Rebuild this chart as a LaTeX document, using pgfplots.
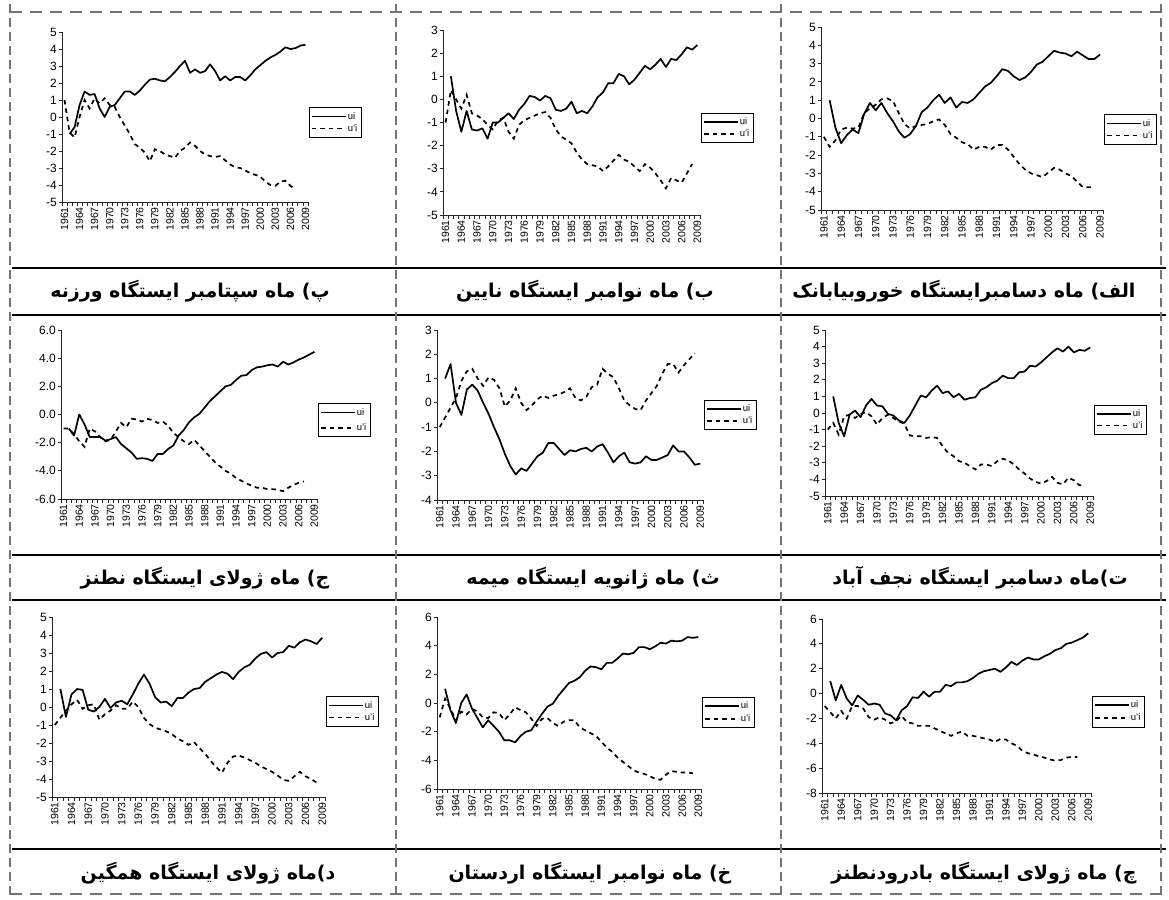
\documentclass[border=0pt]{standalone}
\usepackage{fontspec}
\setmainfont{Liberation Sans}
\newfontfamily\farsi[Script=Arabic]{DejaVu Sans}
\usepackage{pgfplots}
\usepackage{pgfplotstable}
\pgfplotsset{compat=1.18}
\TeXXeTstate=1

% year, ui, u'i
\pgfplotstableread{
y u p
1961 nan 1.0
1962 -1.0 -0.9
1963 -0.6 -1.2
1964 0.7 0.0
1965 1.5 1.0
1966 1.3 0.5
1967 1.35 1.1
1968 0.5 0.8
1969 0.0 1.1
1970 0.6 0.7
1971 0.7 0.6
1972 1.1 0.0
1973 1.5 -0.5
1974 1.5 -1.0
1975 1.3 -1.6
1976 1.55 -1.8
1977 1.9 -2.1
1978 2.2 -2.6
1979 2.25 -1.9
1980 2.15 -2.0
1981 2.1 -2.2
1982 2.35 -2.3
1983 2.65 -2.4
1984 3.0 -2.0
1985 3.3 -1.8
1986 2.6 -1.5
1987 2.8 -1.7
1988 2.6 -2.0
1989 2.7 -2.2
1990 3.1 -2.3
1991 2.7 -2.35
1992 2.15 -2.3
1993 2.4 -2.55
1994 2.15 -2.8
1995 2.35 -2.95
1996 2.35 -3.0
1997 2.15 -3.15
1998 2.45 -3.3
1999 2.8 -3.4
2000 3.05 -3.5
2001 3.3 -3.8
2002 3.5 -4.0
2003 3.65 -4.05
2004 3.85 -3.8
2005 4.1 -3.75
2006 4.0 -4.05
2007 4.05 -4.25
2008 4.2 nan
2009 4.25 nan
}\dA
\pgfplotstableread{
y u p
1961 nan -1.0
1962 1.0 0.4
1963 -0.5 0.0
1964 -1.4 -0.4
1965 -0.5 0.2
1966 -1.3 -0.6
1967 -1.35 -0.7
1968 -1.25 -0.85
1969 -1.7 -1.1
1970 -1.0 -1.3
1971 -1.0 -0.9
1972 -0.8 -0.8
1973 -0.6 -1.4
1974 -0.85 -1.7
1975 -0.45 -1.1
1976 -0.2 -0.9
1977 0.15 -0.8
1978 0.1 -0.7
1979 -0.05 -0.6
1980 0.15 -0.55
1981 0.05 -0.8
1982 -0.45 -1.3
1983 -0.5 -1.6
1984 -0.4 -1.75
1985 -0.1 -1.9
1986 -0.6 -2.3
1987 -0.5 -2.6
1988 -0.6 -2.8
1989 -0.3 -2.85
1990 0.1 -2.9
1991 0.3 -3.1
1992 0.7 -2.9
1993 0.7 -2.65
1994 1.1 -2.4
1995 1.0 -2.6
1996 0.65 -2.7
1997 0.85 -2.9
1998 1.15 -3.1
1999 1.45 -2.8
2000 1.3 -2.95
2001 1.5 -3.2
2002 1.75 -3.5
2003 1.4 -3.85
2004 1.75 -3.4
2005 1.7 -3.5
2006 1.95 -3.6
2007 2.25 -3.2
2008 2.15 -2.8
2009 2.35 nan
}\dB
\pgfplotstableread{
y u p
1961 nan -1.0
1962 1.0 -1.55
1963 -0.5 -1.2
1964 -1.35 -0.6
1965 -0.9 -0.5
1966 -0.6 -0.55
1967 -0.8 -0.5
1968 0.25 0.3
1969 0.85 0.55
1970 0.45 0.75
1971 0.85 1.05
1972 0.3 1.1
1973 -0.15 0.95
1974 -0.7 0.3
1975 -1.05 -0.3
1976 -0.85 -0.55
1977 -0.4 -0.4
1978 0.35 -0.35
1979 0.6 -0.3
1980 1.0 -0.15
1981 1.3 -0.05
1982 0.85 -0.35
1983 1.15 -0.85
1984 0.6 -1.05
1985 0.9 -1.3
1986 0.85 -1.4
1987 1.05 -1.7
1988 1.4 -1.55
1989 1.75 -1.55
1990 1.95 -1.7
1991 2.3 -1.45
1992 2.7 -1.45
1993 2.6 -1.7
1994 2.3 -2.1
1995 2.1 -2.5
1996 2.25 -2.8
1997 2.55 -3.0
1998 2.95 -3.1
1999 3.1 -3.2
2000 3.4 -2.95
2001 3.7 -2.7
2002 3.6 -2.8
2003 3.55 -3.0
2004 3.4 -3.15
2005 3.65 -3.45
2006 3.45 -3.75
2007 3.25 -3.75
2008 3.25 -3.75
2009 3.5 nan
}\dC
\pgfplotstableread{
y u p
1961 nan -1.0
1962 -1.0 -1.0
1963 -1.5 -1.4
1964 0.0 -1.9
1965 -0.7 -2.3
1966 -1.6 -1.0
1967 -1.6 -1.2
1968 -1.6 -1.6
1969 -1.85 -1.9
1970 -1.75 -1.8
1971 -1.6 -1.2
1972 -2.1 -0.6
1973 -2.4 -0.9
1974 -2.7 -0.3
1975 -3.15 -0.35
1976 -3.1 -0.5
1977 -3.15 -0.3
1978 -3.3 -0.4
1979 -2.8 -0.6
1980 -2.8 -0.5
1981 -2.45 -0.8
1982 -2.2 -1.3
1983 -1.5 -1.6
1984 -1.1 -1.9
1985 -0.55 -2.1
1986 -0.2 -1.8
1987 0.05 -2.2
1988 0.5 -2.6
1989 0.95 -3.0
1990 1.3 -3.4
1991 1.65 -3.7
1992 2.0 -4.0
1993 2.1 -4.2
1994 2.45 -4.5
1995 2.75 -4.7
1996 2.8 -4.9
1997 3.15 -5.05
1998 3.35 -5.2
1999 3.4 -5.2
2000 3.5 -5.3
2001 3.55 -5.3
2002 3.4 -5.35
2003 3.75 -5.45
2004 3.55 -5.2
2005 3.7 -5.0
2006 3.9 -4.85
2007 4.05 -4.75
2008 4.25 nan
2009 4.45 nan
}\dD
\pgfplotstableread{
y u p
1961 nan -1.0
1962 1.0 -0.6
1963 1.6 -0.2
1964 0.0 0.2
1965 -0.5 0.9
1966 0.55 1.3
1967 0.75 1.4
1968 0.5 1.0
1969 0.0 0.7
1970 -0.45 1.05
1971 -1.0 0.95
1972 -1.5 0.6
1973 -2.1 -0.15
1974 -2.6 0.1
1975 -2.95 0.6
1976 -2.7 0.0
1977 -2.8 -0.3
1978 -2.5 -0.1
1979 -2.2 0.15
1980 -2.05 0.3
1981 -1.65 0.2
1982 -1.65 0.3
1983 -1.9 0.35
1984 -2.15 0.45
1985 -1.95 0.6
1986 -2.0 0.2
1987 -1.9 0.1
1988 -1.85 0.25
1989 -2.0 0.65
1990 -1.8 0.75
1991 -1.7 1.4
1992 -2.05 1.2
1993 -2.45 1.05
1994 -2.2 0.6
1995 -2.05 0.1
1996 -2.45 -0.1
1997 -2.5 -0.25
1998 -2.45 -0.3
1999 -2.2 0.1
2000 -2.35 0.4
2001 -2.35 0.7
2002 -2.25 1.2
2003 -2.15 1.6
2004 -1.75 1.6
2005 -2.0 1.25
2006 -2.0 1.55
2007 -2.25 1.8
2008 -2.55 2.05
2009 -2.5 nan
}\dE
\pgfplotstableread{
y u p
1961 nan -1.0
1962 1.0 -0.6
1963 -0.6 -1.3
1964 -1.4 -0.2
1965 -0.1 -0.1
1966 0.15 -0.3
1967 -0.25 -0.05
1968 0.45 0.05
1969 0.85 -0.2
1970 0.45 -0.7
1971 0.4 -0.3
1972 -0.05 -0.1
1973 -0.15 -0.3
1974 -0.45 -0.5
1975 -0.6 -0.65
1976 -0.15 -1.35
1977 0.45 -1.4
1978 1.05 -1.4
1979 0.95 -1.5
1980 1.35 -1.45
1981 1.65 -1.5
1982 1.2 -2.0
1983 1.3 -2.4
1984 0.95 -2.6
1985 1.15 -2.9
1986 0.8 -3.0
1987 0.9 -3.2
1988 0.95 -3.4
1989 1.4 -3.1
1990 1.55 -3.1
1991 1.8 -3.2
1992 1.95 -2.9
1993 2.25 -2.75
1994 2.1 -2.85
1995 2.1 -3.1
1996 2.45 -3.4
1997 2.5 -3.65
1998 2.85 -3.95
1999 2.8 -4.15
2000 3.05 -4.25
2001 3.35 -4.1
2002 3.65 -3.85
2003 3.9 -4.2
2004 3.7 -4.3
2005 4.0 -3.9
2006 3.65 -4.05
2007 3.8 -4.35
2008 3.75 -4.35
2009 3.95 nan
}\dF
\pgfplotstableread{
y u p
1961 nan -1.0
1962 1.0 -0.6
1963 -0.55 -0.2
1964 0.7 0.15
1965 1.0 0.4
1966 0.95 -0.1
1967 -0.15 0.1
1968 -0.25 0.15
1969 0.0 -0.7
1970 0.45 -0.4
1971 -0.05 -0.2
1972 0.25 0.1
1973 0.35 -0.1
1974 0.15 -0.1
1975 0.7 0.3
1976 1.3 0.0
1977 1.8 -0.6
1978 1.3 -0.95
1979 0.55 -1.15
1980 0.25 -1.25
1981 0.3 -1.35
1982 0.05 -1.5
1983 0.5 -1.75
1984 0.5 -1.9
1985 0.8 -2.1
1986 1.0 -1.95
1987 1.05 -2.3
1988 1.4 -2.6
1989 1.6 -3.0
1990 1.8 -3.35
1991 1.95 -3.65
1992 1.85 -3.1
1993 1.55 -2.75
1994 1.95 -2.7
1995 2.2 -2.8
1996 2.35 -2.95
1997 2.7 -3.1
1998 2.95 -3.3
1999 3.05 -3.45
2000 2.75 -3.6
2001 3.0 -3.8
2002 3.05 -4.05
2003 3.4 -4.1
2004 3.3 -3.85
2005 3.6 -3.6
2006 3.75 -3.85
2007 3.65 -4.0
2008 3.5 -4.2
2009 3.85 nan
}\dG
\pgfplotstableread{
y u p
1961 nan -1.0
1962 1.0 0.3
1963 -0.5 -0.4
1964 -1.4 -1.2
1965 0.0 -0.6
1966 0.6 -0.8
1967 -0.4 -0.4
1968 -1.05 -0.6
1969 -1.7 -1.0
1970 -1.2 -1.05
1971 -1.6 -0.65
1972 -2.0 -0.7
1973 -2.6 -1.2
1974 -2.6 -0.8
1975 -2.75 -0.3
1976 -2.3 -0.5
1977 -2.0 -0.65
1978 -1.9 -1.1
1979 -1.3 -1.6
1980 -0.75 -1.1
1981 -0.25 -1.05
1982 -0.05 -1.4
1983 0.5 -1.6
1984 0.95 -1.3
1985 1.4 -1.2
1986 1.55 -1.2
1987 1.8 -1.7
1988 2.25 -1.9
1989 2.55 -2.1
1990 2.5 -2.3
1991 2.35 -2.7
1992 2.8 -3.1
1993 2.8 -3.4
1994 3.1 -3.8
1995 3.45 -4.1
1996 3.4 -4.4
1997 3.5 -4.7
1998 3.9 -4.85
1999 3.9 -4.95
2000 3.75 -5.1
2001 3.95 -5.3
2002 4.2 -5.35
2003 4.15 -5.0
2004 4.35 -4.75
2005 4.3 -4.8
2006 4.35 -4.85
2007 4.6 -4.85
2008 4.55 -4.9
2009 4.6 nan
}\dH
\pgfplotstableread{
y u p
1961 nan -1.0
1962 1.0 -1.5
1963 -0.55 -2.0
1964 0.7 -1.4
1965 -0.4 -2.0
1966 -0.95 -1.0
1967 -0.15 -1.0
1968 -0.5 -1.2
1969 -0.9 -1.9
1970 -0.8 -2.1
1971 -0.9 -1.9
1972 -1.6 -2.1
1973 -1.75 -2.4
1974 -2.15 -2.2
1975 -1.35 -1.8
1976 -1.0 -2.3
1977 -0.3 -2.4
1978 -0.35 -2.6
1979 0.15 -2.6
1980 -0.25 -2.6
1981 0.15 -2.8
1982 0.15 -3.0
1983 0.7 -3.2
1984 0.6 -3.4
1985 0.9 -3.2
1986 0.9 -3.05
1987 1.0 -3.4
1988 1.25 -3.4
1989 1.6 -3.5
1990 1.8 -3.6
1991 1.9 -3.7
1992 2.0 -3.9
1993 1.75 -3.65
1994 2.1 -3.7
1995 2.55 -4.0
1996 2.3 -4.2
1997 2.65 -4.6
1998 2.9 -4.8
1999 2.75 -4.9
2000 2.75 -5.05
2001 3.0 -5.15
2002 3.2 -5.3
2003 3.5 -5.4
2004 3.65 -5.35
2005 4.0 -5.15
2006 4.1 -5.1
2007 4.3 -5.1
2008 4.5 nan
2009 4.85 nan
}\dI

\pgfplotsset{
  mk/.style={
    scale only axis,
    axis lines*=left,
    axis line style={line width=1pt, black!85},
    xmin=1960.5, xmax=2009.5,
    xtick={1961,1964,...,2009},
    minor xtick={1960.5,1961.5,...,2009.5},
    major x tick style={draw=none},
    tick align=outside,
    major tick length=3.5pt,
    minor tick length=3.5pt,
    tick style={line width=0.9pt, black!85},
    /pgf/number format/assume math mode=true,
    /pgf/number format/1000 sep={},
    x tick label style={rotate=90, anchor=east, inner sep=1.5pt,
      font=\fontsize{10.5}{10.5}\selectfont},
    y tick label style={inner sep=1.5pt, font=\fontsize{12}{12}\selectfont},
    legend cell align=left,
    legend image code/.code={\draw[#1, line width=1.6pt] (0pt,0pt) -- (34pt,0pt);},
    legend style={draw=black, line width=0.9pt, anchor=west,
      font=\fontsize{9.5}{9.5}\selectfont,
      inner xsep=2pt, inner ysep=2.5pt, row sep=-0.5pt,
      /tikz/every odd column/.append style={column sep=-1pt}},
  },
  ui/.style={black, line width=1.7pt, line join=round},
  up/.style={black, line width=1.7pt, dash pattern=on 4.5pt off 4pt},
}

\newcommand{\panel}[8]{% table, left, bottom, width, height, ymin, ymax, legend y
  \begin{axis}[mk, at={(#2pt,#3pt)}, anchor=south west, width=#4pt, height=#5pt,
      ymin=#6, ymax=#7, ytick distance=1, legend style={at={(1.003,#8)}}]
    \addplot[ui] table[x=y, y=u] {#1};
    \addplot[up] table[x=y, y=p] {#1};
    \legend{ui, u'i}
  \end{axis}}

\tikzset{capt/.style={font=\farsi\bfseries\fontsize{19}{19}\selectfont}}

\begin{document}
\begin{tikzpicture}[x=1pt, y=1pt]
  % table borders
  \foreach \yy in {268,315,555,600,849}
    \draw[line width=1.1pt] (12,-\yy) -- (1166,-\yy);
  \foreach \xx in {10,396,781,1161}
    \draw[black!55, line width=1.6pt, dash pattern=on 9pt off 5pt] (\xx,-4) -- (\xx,-895);
  \draw[black!55, line width=1.6pt, dash pattern=on 12pt off 8pt] (10,-12) -- (1166,-12);
  \draw[black!55, line width=1.6pt, dash pattern=on 12pt off 8pt] (10,-894) -- (1166,-894);

  % row 1
  \panel{\dA}{62}{-202}{246}{170}{-5}{5}{0.468}
  \panel{\dB}{443}{-215}{257}{185}{-5}{3}{0.47}
  \panel{\dC}{821}{-210}{282}{183}{-5}{5}{0.44}
  % row 2
  \begin{axis}[mk, at={(61pt,-499pt)}, anchor=south west, width=256pt, height=169pt,
      ymin=-6, ymax=6, ytick={-6,-4,...,6},
      yticklabel style={/pgf/number format/.cd, fixed, fixed zerofill, precision=1},
      legend style={at={(1.003,0.467)}, row sep=3pt}]
    \addplot[ui] table[x=y, y=u] {\dD};
    \addplot[up] table[x=y, y=p] {\dD};
    \legend{ui, u'i}
  \end{axis}
  \panel{\dE}{437}{-500}{266}{170}{-4}{3}{0.50}
  \panel{\dF}{825}{-496}{268}{166}{-5}{5}{0.46}
  % row 3
  \panel{\dG}{52}{-797}{273}{180}{-5}{5}{0.475}
  \begin{axis}[mk, at={(437pt,-789pt)}, anchor=south west, width=264pt, height=172pt,
      ymin=-6, ymax=6, ytick={-6,-4,...,6},
      legend style={at={(1.003,0.445)}, row sep=1pt}]
    \addplot[ui] table[x=y, y=u] {\dH};
    \addplot[up] table[x=y, y=p] {\dH};
    \legend{ui, u'i}
  \end{axis}
  \begin{axis}[mk, at={(822pt,-793pt)}, anchor=south west, width=269pt, height=174pt,
      ymin=-8, ymax=6, ytick={-8,-6,...,6},
      legend style={at={(1.003,0.468)}, row sep=1pt}]
    \addplot[ui] table[x=y, y=u] {\dI};
    \addplot[up] table[x=y, y=p] {\dI};
    \legend{ui, u'i}
  \end{axis}

  % captions
  \node[capt] at (190,-291) {\beginR پ) ماه سپتامبر ایستگاه ورزنه\endR};
  \node[capt] at (585,-291) {\beginR ب) ماه نوامبر ایستگاه نایین\endR};
  \node[capt] at (964,-291) {\beginR الف) ماه دسامبرایستگاه خوروبیابانک\endR};
  \node[capt] at (205,-578) {\beginR ج) ماه ژولای ایستگاه نطنز\endR};
  \node[capt] at (593,-578) {\beginR ث) ماه ژانویه ایستگاه میمه\endR};
  \node[capt] at (980,-578) {\beginR ت)ماه دسامبر ایستگاه نجف آباد\endR};
  \node[capt] at (208,-873) {\beginR د)ماه ژولای ایستگاه همگین\endR};
  \node[capt] at (590,-873) {\beginR خ) ماه نوامبر ایستگاه اردستان\endR};
  \node[capt] at (984,-873) {\beginR چ) ماه ژولای ایستگاه بادرودنطنز\endR};

  \pgfresetboundingbox
  \path[use as bounding box] (0,0) rectangle (1169,-899);
\end{tikzpicture}
\end{document}
